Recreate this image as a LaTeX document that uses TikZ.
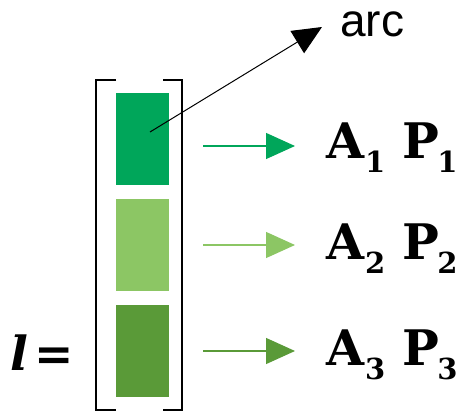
\documentclass[tikz,border=0pt]{standalone}
\usepackage{fontspec}
\setmainfont{DejaVu Serif}
\newfontfamily\arcfont{Liberation Sans}
\usetikzlibrary{arrows.meta}
\definecolor{gA}{RGB}{0,166,90}
\definecolor{gB}{RGB}{140,198,100}
\definecolor{gC}{RGB}{90,154,56}
\newcommand\APlabel[1]{{\fontsize{49}{49}\selectfont\bfseries A}\hspace{1pt}\raisebox{-14pt}{\fontsize{29}{29}\selectfont\bfseries #1}\hspace{17pt}{\fontsize{49}{49}\selectfont\bfseries P}\hspace{-2pt}\raisebox{-14pt}{\fontsize{29}{29}\selectfont\bfseries #1}}
\begin{document}
\begin{tikzpicture}[x=1pt,y=-1pt,
  bar/.style={fill=#1, draw=none, minimum width=53pt, minimum height=92pt, inner sep=0pt, anchor=north west},
  lbl/.style={anchor=base west, inner sep=0pt},
  garrow/.style={color=#1, draw=#1, fill=#1, line width=1.2pt, -{Triangle[length=29pt,width=26pt]}},
  bracket/.style={draw=black, line width=1.3pt}]
\useasboundingbox (0,0) rectangle (462,411);
% bracket
\draw[bracket] (116,80) -- (96,80) -- (96,410) -- (116,410);
\draw[bracket] (163,80) -- (182,80) -- (182,410) -- (163,410);
% bars
\node[bar=gA] (r1) at (116,93) {};
\node[bar=gB] (r2) at (116,199) {};
\node[bar=gC] (r3) at (116,305) {};
% labels
\node[lbl] (t1) at (326,159) {\APlabel{1}};
\node[lbl] (t2) at (326,259) {\APlabel{2}};
\node[lbl] (t3) at (326,365) {\APlabel{3}};
\node[lbl] (arc) at (340,37) {\arcfont\fontsize{46}{46}\selectfont arc};
\node[lbl] (leq) at (10,370) {\fontsize{47}{47}\selectfont{\bfseries\itshape l}\hspace{6pt}{\bfseries =}};
% arrow anchors
\coordinate (s1) at (203,146); \coordinate (e1) at (295,146);
\coordinate (s2) at (203,245); \coordinate (e2) at (295,245);
\coordinate (s3) at (203,351); \coordinate (e3) at (295,351);
\coordinate (a0) at (150,132); \coordinate (a1) at (322,27);
\draw[garrow=gA] (s1) -- (e1);
\draw[garrow=gB] (s2) -- (e2);
\draw[garrow=gC] (s3) -- (e3);
\draw[line width=1pt, -{Triangle[length=29pt,width=26pt]}] (a0) -- (a1);
\end{tikzpicture}
\end{document}
